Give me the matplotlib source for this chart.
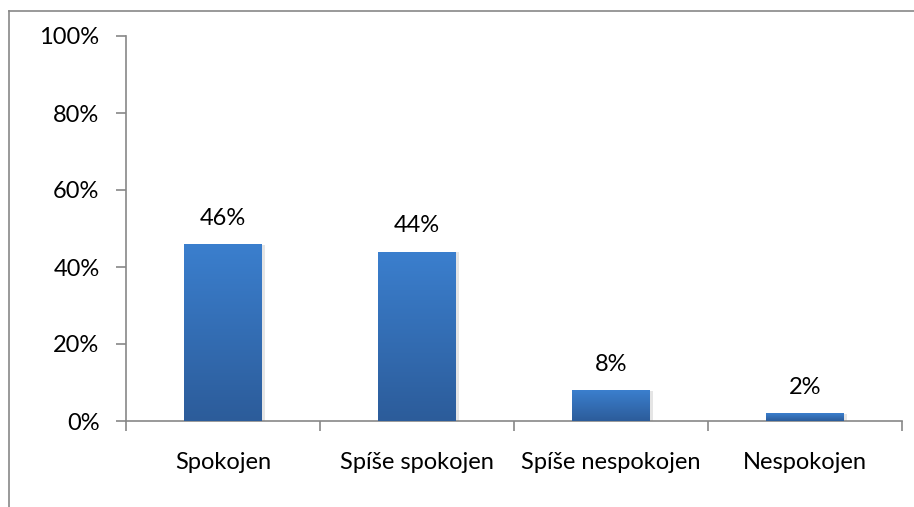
import numpy as np
import matplotlib
matplotlib.use("Agg")
import matplotlib.pyplot as plt
from matplotlib.lines import Line2D
from matplotlib.colors import LinearSegmentedColormap
from matplotlib.ticker import FuncFormatter

kategorie = ["Spokojen", "Spíše spokojen", "Spíše nespokojen", "Nespokojen"]
podily = [0.46, 0.44, 0.08, 0.02]
y_ticks = [0, 0.2, 0.4, 0.6, 0.8, 1.0]

plt.rcParams["font.family"] = ["Lato", "DejaVu Sans"]
plt.rcParams["font.size"] = 17

W, H = 914, 507
fig = plt.figure(figsize=(W / 100, H / 100), dpi=100)
ax = fig.add_axes([126 / W, 1 - 421 / H, (902 - 126) / W, (421 - 36) / H])

seda = "#878787"
x = np.arange(len(kategorie))
sirka = 0.4

# modrý přechod shora dolů
cmap = LinearSegmentedColormap.from_list("modra", ["#2C5C9A", "#3B7FCE"])
grad = np.linspace(0, 1, 256).reshape(-1, 1)

bars = ax.bar(x, podily, width=sirka, color="none", zorder=3)
for b, v in zip(bars, podily):
    x0 = b.get_x()
    # jemný stín kolem sloupce
    ax.bar(x0 + sirka / 2 + 0.008, v + 0.004, width=sirka + 0.012, bottom=-0.006,
           color="#000000", alpha=0.10, zorder=2, linewidth=0)
    im = ax.imshow(grad, extent=[x0, x0 + sirka, 0, v], origin="lower", cmap=cmap,
                   aspect="auto", zorder=3)
    im.set_clip_path(b)
    ax.annotate(f"{round(v * 100)}%", (b.get_x() + sirka / 2, v), xytext=(0, 11),
                textcoords="offset points", ha="center", va="bottom", fontsize=17)

ax.set_xlim(-0.5, len(kategorie) - 0.5)
ax.set_ylim(0, 1)
ax.set_yticks(y_ticks)
ax.yaxis.set_major_formatter(FuncFormatter(lambda v, p: f"{round(v * 100)}%"))

ax.set_xticks(x)
ax.set_xticklabels(kategorie)
ax.set_xticks(np.arange(len(kategorie) + 1) - 0.5, minor=True)
ax.tick_params(axis="x", which="major", length=0, pad=22)
ax.tick_params(axis="x", which="minor", length=7, color=seda, width=1.2)
ax.tick_params(axis="y", length=7, color=seda, width=1.2, pad=12)

for s in ["top", "right"]:
    ax.spines[s].set_visible(False)
for s in ["left", "bottom"]:
    ax.spines[s].set_color(seda)
    ax.spines[s].set_linewidth(1.2)

# rámeček grafu
fig.add_artist(Line2D([8.5 / W, 8.5 / W], [0, 1 - 11 / H], color=seda, lw=1.2,
                      transform=fig.transFigure))
fig.add_artist(Line2D([8.5 / W, 1], [1 - 11 / H, 1 - 11 / H], color=seda, lw=1.2,
                      transform=fig.transFigure))

fig.savefig("out.png", dpi=100)
